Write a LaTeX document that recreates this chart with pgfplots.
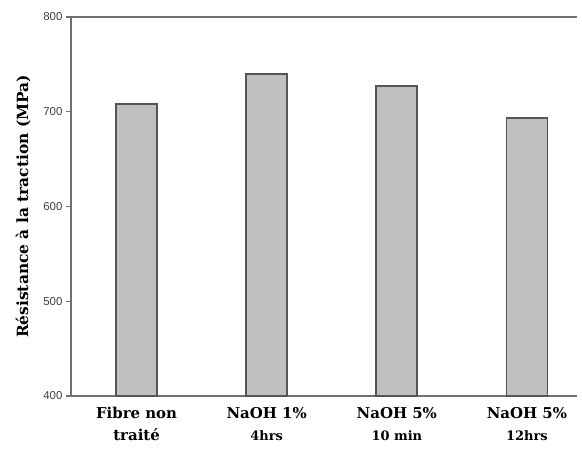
\documentclass[border=0pt]{standalone}
\usepackage{pgfplots}
\pgfplotsset{compat=1.18}
\usepackage{fontspec}
\setmainfont{DejaVu Serif}
\newfontfamily\ticksf{Liberation Sans}
\definecolor{barfill}{HTML}{C0C0C0}
\definecolor{baredge}{HTML}{555555}
\definecolor{axcol}{HTML}{707070}
\definecolor{ticktxt}{HTML}{404040}
\begin{document}
\begin{tikzpicture}
\begin{axis}[
  name=ax,
  scale only axis,
  width=506bp, height=379bp,
  xmin=-0.504, xmax=3.385,
  ymin=400, ymax=800,
  ytick={400,500,600,700,800},
  xtick={0,1,2,3},
  xticklabels={{Fibre non\\traité},{NaOH 1\%\\{\fontsize{13}{15}\selectfont 4hrs}},{NaOH 5\%\\{\fontsize{13}{15}\selectfont 10 min}},{NaOH 5\%\\{\fontsize{13}{15}\selectfont 12hrs}}},
  xticklabel style={align=center, font=\fontsize{15}{22}\selectfont\bfseries, text=black, yshift=-3bp},
  x tick style={draw=none},
  axis x line*=box,
  axis y line*=left,
  axis line style={axcol, line width=1.2pt},
  tick align=outside,
  y tick style={axcol, line width=1.2pt},
  major tick length=5bp,
  /pgf/number format/assume math mode=true,
  yticklabel style={font=\ticksf\fontsize{11.5}{13}\selectfont, text=ticktxt},
  ylabel={Résistance à la traction (MPa)},
  ylabel style={font=\fontsize{15.5}{17}\selectfont\bfseries, yshift=6bp},
  ybar, bar width=41bp,
  clip=false,
]
\addplot[fill=barfill, draw=baredge, line width=1.7pt] coordinates {(0,708) (1,740) (2,727.5) (3,693.5)};
\end{axis}
\path (ax.south west) ++(-71bp,-54bp) coordinate (bl);
\path (ax.north east) ++(5bp,17bp) coordinate (tr);
\path (bl) rectangle (tr);
\end{tikzpicture}
\end{document}
